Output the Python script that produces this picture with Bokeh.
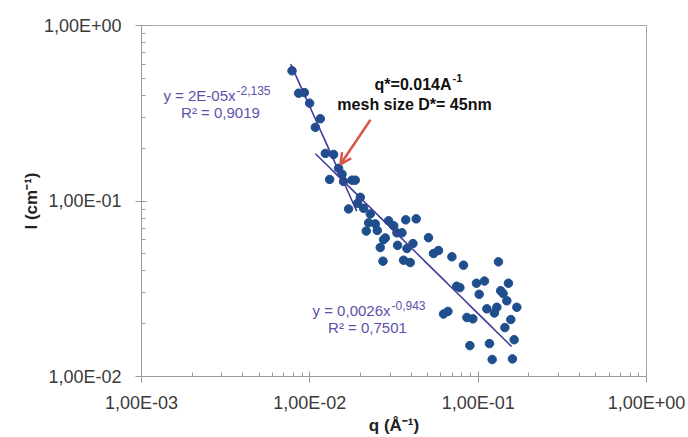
import numpy as np
from bokeh.plotting import figure
from bokeh.models import (Range1d, FixedTicker, CustomJSTickFormatter, Label,
                          Arrow, OpenHead)
from bokeh.embed import file_html
from bokeh.resources import INLINE

# ---------------- data ----------------
q_values = [0.00784, 0.00858, 0.00928, 0.00997, 0.01154, 0.01078, 0.01236, 0.01384,
            0.01482, 0.01311, 0.01553, 0.01587, 0.0178, 0.01862, 0.01994, 0.01922,
            0.01699, 0.02086, 0.02286, 0.02234, 0.02447, 0.02164, 0.02515, 0.02936,
            0.03151, 0.03292, 0.03526, 0.03713, 0.04286, 0.02807, 0.02742, 0.0262,
            0.0332, 0.03775, 0.04098, 0.0507, 0.0272, 0.03603, 0.03948, 0.05428,
            0.05813, 0.06982, 0.0818, 0.132, 0.07455, 0.07788, 0.0977, 0.109,
            0.1014, 0.1513, 0.136, 0.1407, 0.148, 0.1697, 0.1291, 0.1126,
            0.1248, 0.06227, 0.06611, 0.0857, 0.093, 0.1563, 0.1441, 0.1636,
            0.0893, 0.1167, 0.1211, 0.1598]
I_values = [0.552, 0.4113, 0.4146, 0.3611, 0.2943, 0.2629, 0.1867, 0.1843,
            0.1536, 0.1327, 0.1421, 0.1292, 0.1314, 0.1314, 0.1049, 0.097,
            0.0901, 0.0909, 0.0844, 0.0751, 0.0741, 0.0674, 0.068, 0.0771,
            0.0722, 0.0659, 0.0659, 0.0781, 0.0791, 0.0616, 0.0602, 0.0543,
            0.0559, 0.0536, 0.0572, 0.0618, 0.0454, 0.046, 0.0446, 0.0502,
            0.0522, 0.0481, 0.0431, 0.045, 0.0327, 0.0321, 0.034, 0.035,
            0.0294, 0.034, 0.0308, 0.0297, 0.027, 0.0248, 0.0248, 0.0243,
            0.023, 0.0227, 0.0235, 0.0217, 0.0213, 0.0211, 0.019, 0.0162,
            0.015, 0.0154, 0.0125, 0.0126]

x_tick_values = [1e-3, 1e-2, 1e-1, 1.0]
x_tick_labels = ["1,00E-03", "1,00E-02", "1,00E-01", "1,00E+00"]
y_tick_values = [1e-2, 1e-1, 1.0]
y_tick_labels = ["1,00E-02", "1,00E-01", "1,00E+00"]

fit1_coef, fit1_exp = 1.85e-5, -2.135
fit1_qrange = [0.0077, 0.019]
fit2_coef, fit2_exp = 0.0026, -0.943
fit2_qrange = [0.0108, 0.158]

eq1_main, eq1_sup, eq1_r2 = "y = 2E-05x", "-2,135", "R² = 0,9019"
eq2_main, eq2_sup, eq2_r2 = "y = 0,0026x", "-0,943", "R² = 0,7501"
note_main, note_sup, note_line2 = "q*=0.014A", "-1", "mesh size D*= 45nm"

# ---------------- styling ----------------
FONT = "Liberation Sans"
PT_COLOR = "#1f4e8d"
LINE_COLOR = "#3f3d9c"
TXT_COLOR = "#5a53aa"
RED = "#d9544a"
AX_COLOR = "#9a9a9a"

W, H = 688, 437
# frame in page pixels: left 141, right 646, top 25, bottom 379
FL, FR, FT, FB = 141.0, 646.0, 25.0, 379.0


def at(xp, yp):
    """page pixel -> data coordinates (log axes)"""
    lx = -3 + 3 * (xp - FL) / (FR - FL)
    ly = 0 - 2 * (yp - FT) / (FB - FT)
    return 10 ** lx, 10 ** ly


p = figure(width=W, height=H, x_axis_type="log", y_axis_type="log",
           x_range=Range1d(1e-3, 1.0), y_range=Range1d(1e-2, 1.0),
           output_backend="svg", toolbar_location=None,
           min_border_left=int(FL), min_border_right=int(W - FR),
           min_border_top=int(FT), min_border_bottom=int(H - FB))
p.xgrid.visible = False
p.ygrid.visible = False
p.outline_line_color = "#a8a8a8"
p.outline_line_width = 1
p.background_fill_color = "white"
p.border_fill_color = "white"

x_minor = [k * 10.0 ** e for e in range(-3, 0) for k in range(2, 10)]
y_minor = [k * 10.0 ** e for e in range(-2, 0) for k in range(2, 10)]
p.xaxis.ticker = FixedTicker(ticks=x_tick_values, minor_ticks=x_minor)
p.yaxis.ticker = FixedTicker(ticks=y_tick_values, minor_ticks=y_minor)
p.xaxis.formatter = CustomJSTickFormatter(
    args=dict(labels=x_tick_labels),
    code="return labels[Math.round(Math.log10(tick)) + 3];")
p.yaxis.formatter = CustomJSTickFormatter(
    args=dict(labels=y_tick_labels),
    code="return labels[Math.round(Math.log10(tick)) + 2];")

for ax in (p.xaxis[0], p.yaxis[0]):
    ax.axis_line_color = AX_COLOR
    ax.major_tick_line_color = AX_COLOR
    ax.minor_tick_line_color = AX_COLOR
    ax.major_tick_in = 5
    ax.major_tick_out = 6
    ax.minor_tick_in = 4
    ax.minor_tick_out = 0
    ax.major_label_text_font = FONT
    ax.major_label_text_font_size = "18px"
    ax.major_label_text_color = "#3a3a3a"
    ax.axis_label_text_font = FONT
    ax.axis_label_text_font_style = "bold"
    ax.axis_label_text_font_size = "17px"
    ax.axis_label_text_color = "#222222"

p.xaxis.axis_label = "q (Å⁻¹)"
p.yaxis.axis_label = "I (cm⁻¹)"
p.xaxis.major_label_standoff = 10
p.xaxis.axis_label_standoff = 0
p.yaxis.major_label_standoff = 14
p.yaxis.axis_label_standoff = 0

# points
p.scatter(q_values, I_values, size=8.5, fill_color=PT_COLOR, line_color=PT_COLOR)

# fit lines
q1 = np.logspace(np.log10(fit1_qrange[0]), np.log10(fit1_qrange[1]), 60)
p.line(q1, fit1_coef * q1 ** fit1_exp, line_color=LINE_COLOR, line_width=1.6)
q2 = np.logspace(np.log10(fit2_qrange[0]), np.log10(fit2_qrange[1]), 60)
p.line(q2, fit2_coef * q2 ** fit2_exp, line_color=LINE_COLOR, line_width=1.6)


def add_label(xp, yp, text, size, color, align="left", bold=False):
    x, y = at(xp, yp)
    p.add_layout(Label(x=x, y=y, text=text, text_align=align,
                       text_baseline="middle", text_font=FONT,
                       text_font_size=size, text_color=color,
                       text_font_style="bold" if bold else "normal"))


# equation 1
add_label(235, 96, eq1_main, "15px", TXT_COLOR, align="right")
add_label(236, 91, eq1_sup, "12px", TXT_COLOR, align="left")
add_label(220, 113, eq1_r2, "15px", TXT_COLOR, align="center")
# equation 2
add_label(390, 312, eq2_main, "15px", TXT_COLOR, align="right")
add_label(391, 307, eq2_sup, "12px", TXT_COLOR, align="left")
add_label(367, 330, eq2_r2, "15px", TXT_COLOR, align="center")
# annotation
add_label(451, 84, note_main, "16px", "#111111", align="right", bold=True)
add_label(452, 78, note_sup, "11px", "#111111", align="left", bold=True)
add_label(414, 105, note_line2, "16px", "#111111", align="center", bold=True)

# arrow
xs, ys = at(370, 120)
xe, ye = at(340, 165)
p.add_layout(Arrow(end=OpenHead(size=11, line_color=RED, line_width=2.5),
                   x_start=xs, y_start=ys, x_end=xe, y_end=ye,
                   line_color=RED, line_width=2.5))

open("out.html", "w").write(file_html(p, INLINE))
